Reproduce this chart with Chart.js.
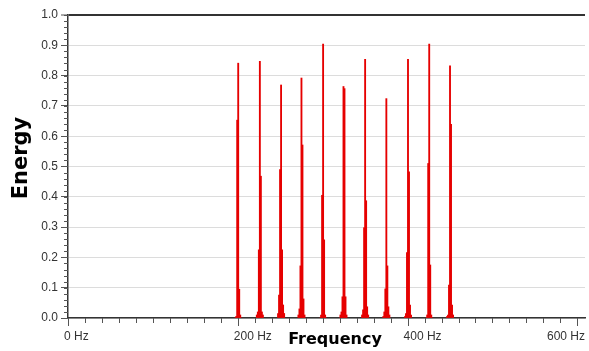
<!DOCTYPE html>
<html>
<head>
<meta charset="utf-8">
<script src="https://cdn.jsdelivr.net/npm/chart.js"></script>
<style>
  html, body { margin: 0; padding: 0; background: #fff; }
  #wrap { width: 589px; height: 351px; }
</style>
</head>
<body>
<div id="wrap"><canvas id="chart" width="589" height="351"></canvas></div>
<script>
// peak centres (Hz)
const peakFreqs = [200.5, 226, 251, 275, 300.5, 324.5, 350, 375, 400.5, 425.5, 450];
// bin offsets around each peak (Hz)
const binOffsets = [-3.6, -2.4, -1.2, 0, 1.2, 2.4, 3.6];
// energy of each bin, one row per peak
const peakBins = [
  [0, 0.005, 0.653, 0.841, 0.095, 0.01, 0],
  [0.01, 0.02, 0.225, 0.847, 0.468, 0.02, 0.01],
  [0.015, 0.076, 0.49, 0.769, 0.225, 0.043, 0.015],
  [0.01, 0.03, 0.172, 0.792, 0.571, 0.063, 0.01],
  [0, 0.01, 0.405, 0.904, 0.258, 0.01, 0],
  [0.01, 0.02, 0.07, 0.764, 0.757, 0.07, 0.01],
  [0.01, 0.027, 0.298, 0.854, 0.387, 0.037, 0.01],
  [0.005, 0.02, 0.096, 0.724, 0.172, 0.037, 0.01],
  [0.005, 0.015, 0.216, 0.854, 0.482, 0.043, 0.01],
  [0, 0.01, 0.51, 0.904, 0.175, 0.01, 0],
  [0.005, 0.01, 0.109, 0.832, 0.639, 0.043, 0.01]
];
const xMajorTicks = [0, 200, 400, 600];
const xTickLabels = ["0 Hz", "200 Hz", "400 Hz", "600 Hz"];
const xMax = 609;

const points = [];
peakFreqs.forEach((f, i) => {
  binOffsets.forEach((o, j) => {
    points.push({ x: f + o, y: peakBins[i][j] });
  });
});

// minor ticks, x tick labels and axis titles
const axisExtras = {
  id: "axisExtras",
  afterDraw(chart) {
    const { ctx, chartArea } = chart;
    const x = chart.scales.x;
    const y = chart.scales.y;
    ctx.save();
    ctx.strokeStyle = "#555";
    ctx.lineWidth = 1;
    ctx.beginPath();
    for (let v = 0; v <= 1.0001; v += 0.02) {
      const py = Math.round(y.getPixelForValue(v)) + 0.5;
      ctx.moveTo(chartArea.left - 4, py);
      ctx.lineTo(chartArea.left, py);
    }
    for (let v = 0; v <= 600; v += 20) {
      const px = Math.round(x.getPixelForValue(v)) + 0.5;
      const major = xMajorTicks.includes(v);
      ctx.moveTo(px, chartArea.bottom);
      ctx.lineTo(px, chartArea.bottom + (major ? 8 : 5));
    }
    ctx.stroke();

    ctx.fillStyle = "#333";
    ctx.font = "12px 'Liberation Sans', Arial, sans-serif";
    ctx.textBaseline = "middle";
    ctx.textAlign = "left";
    xMajorTicks.forEach((v, i) => {
      const w = ctx.measureText(xTickLabels[i]).width;
      let lx = x.getPixelForValue(v) - 4;
      if (lx + w > chartArea.right) lx = chartArea.right - w;
      ctx.fillText(xTickLabels[i], lx, chartArea.bottom + 19);
    });

    ctx.fillStyle = "#000";
    ctx.font = "bold 16px 'DejaVu Sans', Verdana, sans-serif";
    ctx.textAlign = "center";
    ctx.fillText("Frequency", 335, 340);

    ctx.font = "bold 21px 'DejaVu Sans', Verdana, sans-serif";
    ctx.translate(22, 158);
    ctx.rotate(-Math.PI / 2);
    ctx.fillText("Energy", 0, 0);
    ctx.restore();
  }
};

const ctx = document.getElementById("chart").getContext("2d");
const chart = new Chart(ctx, {
  type: "bar",
  data: {
    datasets: [
      {
        label: "Energy",
        data: points,
        backgroundColor: "#e60000",
        borderWidth: 0,
        barThickness: 1.2,
        barPercentage: 1,
        categoryPercentage: 1
      }
    ]
  },
  options: {
    responsive: false,
    animation: false,
    layout: { padding: { left: 0, top: 15, right: 4, bottom: 0 } },
    plugins: {
      legend: { display: false },
      tooltip: { enabled: false }
    },
    scales: {
      x: {
        type: "linear",
        min: 0,
        max: xMax,
        offset: false,
        ticks: { display: false },
        grid: { display: false },
        border: { display: true, color: "#333", width: 1.5 },
        afterFit: function(scale) {
          scale.height = 33;
        }
      },
      y: {
        min: 0,
        max: 1,
        ticks: {
          stepSize: 0.1,
          color: "#333",
          padding: 3,
          font: { family: "'Liberation Sans', Arial, sans-serif", size: 12 },
          callback: function(value) {
            return value.toFixed(1);
          }
        },
        grid: {
          color: function(c) {
            return c.index === 10 ? "#333" : "#dcdcdc";
          },
          lineWidth: function(c) {
            return c.index === 10 ? 2 : 1;
          },
          drawTicks: true,
          tickLength: 7,
          tickColor: "#555",
          tickWidth: 1
        },
        border: { display: true, color: "#333", width: 1.5 },
        afterFit: function(scale) {
          scale.width = 68;
        }
      }
    }
  },
  plugins: [axisExtras]
});
</script>
</body>
</html>
